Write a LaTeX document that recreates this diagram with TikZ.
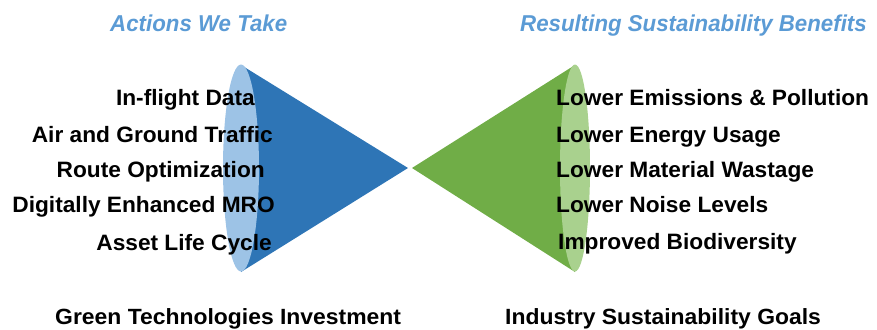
\documentclass[tikz,border=0pt]{standalone}
\usepackage{fontspec}
\setmainfont{Liberation Sans}
\newfontfamily\listfont[FakeStretch=1.02]{Liberation Sans}
\newfontfamily\headfont[FakeStretch=0.97]{Liberation Sans}
\newfontfamily\footfont[FakeStretch=1.04]{Liberation Sans}
\definecolor{coneblue}{HTML}{2E75B6}
\definecolor{baseblue}{HTML}{9DC3E6}
\definecolor{conegreen}{HTML}{70AD47}
\definecolor{basegreen}{HTML}{A9D18E}
\definecolor{headblue}{HTML}{5B9BD5}

\begin{document}
\begin{tikzpicture}[x=0.3mm, y=-0.3mm,
    leftitem/.style={anchor=base east, inner sep=0pt, font={\listfont\bfseries\fontsize{19}{21}\selectfont}},
    rightitem/.style={anchor=base west, inner sep=0pt, font={\listfont\bfseries\fontsize{19}{21}\selectfont}},
    heading/.style={anchor=base west, inner sep=0pt, text=headblue, font={\headfont\bfseries\itshape\fontsize{19.6}{22}\selectfont}},
    footer/.style={anchor=base west, inner sep=0pt, font={\footfont\bfseries\fontsize{18.8}{21}\selectfont}}]
    \useasboundingbox (0,0) rectangle (877,329);
    % left cone
    \coordinate (apexL) at (408,168);
    \coordinate (baseL) at (241,168);
    \fill[coneblue] (241,65) -- (apexL) -- (241,272) -- cycle;
    \fill[baseblue] (baseL) ellipse [x radius=18, y radius=103.5];
    % right cone
    \coordinate (apexR) at (412,168);
    \coordinate (baseR) at (575,168);
    \fill[conegreen] (575,65) -- (apexR) -- (575,272) -- cycle;
    \fill[basegreen] (baseR) ellipse [x radius=15, y radius=103.5];
    % headings
    \node[heading] (actions) at (110,31) {Actions We Take};
    \node[heading] (benefits) at (520,31) {Resulting Sustainability Benefits};
    % actions
    \node[leftitem] (data) at (255,105) {In-flight Data};
    \node[leftitem] (traffic) at (273,142) {Air and Ground Traffic};
    \node[leftitem] (route) at (265,177) {Route Optimization};
    \node[leftitem] (mro) at (275,212) {Digitally Enhanced MRO};
    \node[leftitem] (asset) at (272,250) {Asset Life Cycle};
    % benefits
    \node[rightitem] (emissions) at (556,105) {Lower Emissions \& Pollution};
    \node[rightitem] (energy) at (556,142) {Lower Energy Usage};
    \node[rightitem] (wastage) at (556,177) {Lower Material Wastage};
    \node[rightitem] (noise) at (556,212) {Lower Noise Levels};
    \node[rightitem] (biodiv) at (558,249) {Improved Biodiversity};
    % bottom line
    \node[footer] (invest) at (55,324) {Green Technologies Investment};
    \node[footer] (goals) at (505,324) {Industry Sustainability Goals};
\end{tikzpicture}
\end{document}
